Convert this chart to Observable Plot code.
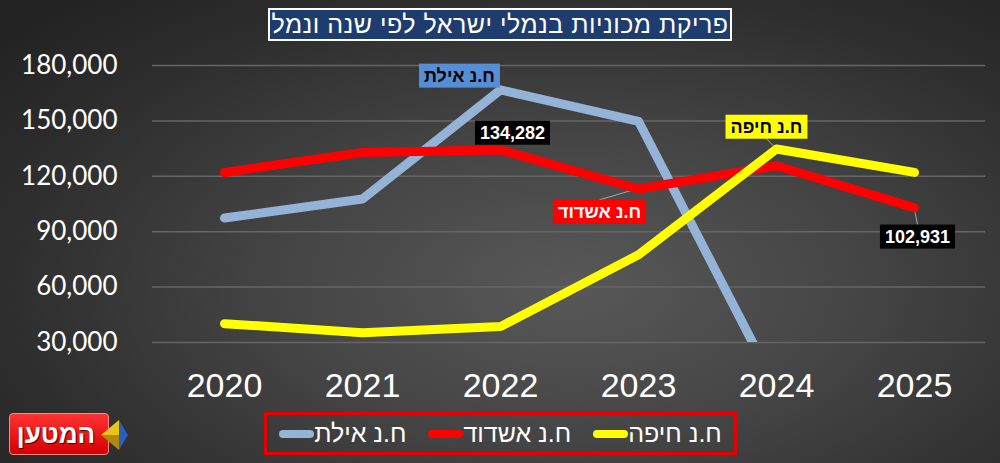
<!DOCTYPE html>
<html>
<head>
<meta charset="utf-8">
<script src="https://cdn.jsdelivr.net/npm/d3@7"></script>
<script src="https://cdn.jsdelivr.net/npm/@observablehq/plot@0.6"></script>
<style>
  body { margin: 0; }
  #wrap {
    position: relative; width: 1000px; height: 463px; overflow: hidden;
    background: radial-gradient(ellipse 75% 85% at 57% 62%, #585858 0%, #444 40%, #2e2e2e 75%, #222 100%);
    font-family: "Liberation Sans", "DejaVu Sans", sans-serif;
  }
  #chart { position: absolute; left: 0; top: 0; }
  #title {
    position: absolute; left: 268px; top: 8px; width: 464px; height: 33px;
    box-sizing: border-box; border: 2px solid #fff; background: #1f3c6e;
    color: #fff; font-size: 25px; line-height: 29px; text-align: center;
    direction: rtl; letter-spacing: 0.5px; white-space: nowrap;
  }
  #legend {
    position: absolute; left: 264px; top: 412px; width: 473px; height: 43px;
    box-sizing: border-box; border: 3px solid #e60000;
    display: flex; direction: rtl; justify-content: center; align-items: center; gap: 22px;
  }
  .item { display: flex; align-items: center; color: #fff; font-size: 25px; }
  .sw { width: 35px; height: 8px; border-radius: 4px; }
  #logo {
    position: absolute; left: 9px; top: 413px; width: 100px; height: 42px;
    box-sizing: border-box; border-radius: 4px; border: 1px solid #f88;
    background: linear-gradient(#f33, #d40000);
    color: #fff; font-weight: bold; font-size: 26px; line-height: 40px;
    text-align: center; direction: rtl; text-shadow: 1px 1px 1px #400;
    padding-right: 6px;
  }
  #arrow { position: absolute; left: 99px; top: 418px; }
</style>
</head>
<body>
<div id="wrap">
  <div id="chart"></div>
  <div id="title">פריקת מכוניות בנמלי ישראל לפי שנה ונמל</div>
  <div id="legend"></div>
  <div id="logo">המטען</div>
  <svg id="arrow" width="30" height="34">
    <polygon points="2,17 20,2 20,17" fill="#e8c619"/>
    <polygon points="2,17 20,17 20,32" fill="#b08a10"/>
    <polygon points="20,2 29,17 20,32" fill="#2a5fc0"/>
  </svg>
</div>
<script>
// data
const years = [2020, 2021, 2022, 2023, 2024, 2025];
const ports = ["ח.נ אילת", "ח.נ אשדוד", "ח.נ חיפה"];
const eilat = [97400, 107700, 166800, 149800, 5000, null];
const ashdod = [122100, 132900, 134282, 113100, 125700, 102931];
const haifa = [40200, 35300, 38600, 77500, 134800, 122100];
const yTicks = [30000, 60000, 90000, 120000, 150000, 180000];
const colors = ["#95b3d7", "#ff0000", "#ffff00"];

const series = [eilat, ashdod, haifa];
const rows = ports.flatMap((p, i) =>
  years.map((yr, j) => ({ port: p, year: yr, value: series[i][j] }))
);

const fmt = d3.format(",");
const at = (arr, yr) => ({ year: yr, value: arr[years.indexOf(yr)] });

// one text label anchored on a data point
function label(arr, yr, text, fg, dx, dy) {
  return Plot.text([at(arr, yr)], {
    x: "year", y: "value", text: () => text,
    dx, dy, fill: fg, fontSize: 18, fontWeight: "bold",
    fontFamily: "Liberation Sans, DejaVu Sans, sans-serif"
  });
}

const chart = Plot.plot({
  width: 1000,
  height: 463,
  marginTop: 65,
  marginBottom: 121,
  marginLeft: 152,
  marginRight: 15,
  style: { background: "transparent", color: "white", overflow: "visible" },
  x: { type: "point", domain: years, padding: 0.5 },
  y: { domain: [30000, 180000] },
  color: { domain: ports, range: colors },
  marks: [
    Plot.gridY(yTicks, { stroke: "#666", strokeOpacity: 1, strokeWidth: 1.5 }),
    Plot.axisY(yTicks, {
      tickSize: 0, tickPadding: 35, tickFormat: fmt, label: null,
      fontSize: 26, fontFamily: "Lato, Open Sans, sans-serif", color: "white"
    }),
    Plot.axisX(years, {
      tickSize: 0, tickPadding: 30, tickFormat: String, label: null,
      fontSize: 34, fontFamily: "Liberation Sans, sans-serif", color: "white"
    }),
    Plot.line(rows, {
      x: "year", y: "value", z: "port", stroke: "port",
      strokeWidth: 9, strokeLinecap: "round", strokeLinejoin: "round", clip: true
    }),
    label(eilat, 2022, ports[0], "black", -41, -14),
    label(ashdod, 2022, fmt(ashdod[2]), "white", 12, -17),
    label(ashdod, 2023, ports[1], "white", -39, 23),
    label(haifa, 2024, ports[2], "black", -10, -22),
    label(ashdod, 2025, fmt(ashdod[5]), "white", 3, 29)
  ]
});

document.getElementById("chart").append(chart);

// boxes behind the labels, and thin leader lines
const svg = chart;
const ns = "http://www.w3.org/2000/svg";
const xs = chart.scale("x"), ys = chart.scale("y");

function box(text, bg) {
  const t = [...svg.querySelectorAll("text")].find((e) => e.textContent === text);
  const b = t.getBBox();
  const r = document.createElementNS(ns, "rect");
  r.setAttribute("x", b.x - 5);
  r.setAttribute("width", b.width + 10);
  r.setAttribute("y", b.y + b.height / 2 - 12);
  r.setAttribute("height", 24);
  r.setAttribute("fill", bg);
  if (t.getAttribute("transform")) r.setAttribute("transform", t.getAttribute("transform"));
  t.parentNode.insertBefore(r, t);
  return r;
}

function leader(rect, p) {
  const r = rect.getBoundingClientRect(), s = svg.getBoundingClientRect();
  const px = xs.apply(p.year), py = ys.apply(p.value);
  const cx = r.left - s.left + r.width / 2;
  const top = r.top - s.top, bottom = r.bottom - s.top;
  const ey = py < top ? top : bottom;
  const l = document.createElementNS(ns, "line");
  l.setAttribute("x1", px); l.setAttribute("y1", py);
  l.setAttribute("x2", cx); l.setAttribute("y2", ey);
  l.setAttribute("stroke", "#a6a6a6"); l.setAttribute("stroke-width", 1);
  const firstLine = svg.querySelector('g[aria-label="line"]');
  svg.insertBefore(l, firstLine);
}

box(ports[0], "#558ed5");
box(fmt(ashdod[2]), "black");
leader(box(ports[1], "#ff0000"), at(ashdod, 2023));
leader(box(ports[2], "#ffff00"), at(haifa, 2024));
leader(box(fmt(ashdod[5]), "black"), at(ashdod, 2025));

// legend
d3.select("#legend").selectAll("div")
  .data([2, 1, 0])
  .join("div").attr("class", "item")
  .call((d) => d.append("span").text((i) => ports[i]))
  .call((d) => d.append("div").attr("class", "sw").style("background", (i) => colors[i]));
</script>
</body>
</html>
